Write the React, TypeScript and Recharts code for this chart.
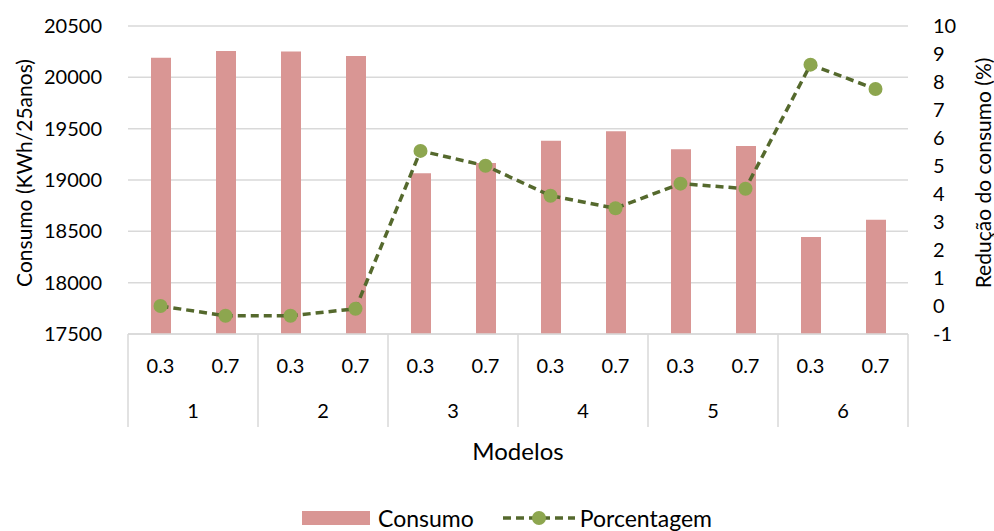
import React from 'react';
import {
    ComposedChart,
    Bar,
    Line,
    XAxis,
    YAxis,
    CartesianGrid,
} from 'recharts';

// two-level category axis: ratio inside each model
const models = ['1', '1', '2', '2', '3', '3', '4', '4', '5', '5', '6', '6'];
const ratios = ['0.3', '0.7', '0.3', '0.7', '0.3', '0.7', '0.3', '0.7', '0.3', '0.7', '0.3', '0.7'];
const consumo = [20190, 20257, 20252, 20208, 19065, 19166, 19383, 19474, 19299, 19331, 18445, 18614];
const porcentagem = [0, -0.35, -0.35, -0.1, 5.54, 5.01, 3.94, 3.49, 4.37, 4.19, 8.62, 7.75];

const leftTicks = [17500, 18000, 18500, 19000, 19500, 20000, 20500];
const rightTicks = [-1, 0, 1, 2, 3, 4, 5, 6, 7, 8, 9, 10];

const data = ratios.map((r, i) => ({
    key: `${models[i]}-${r}`,
    ratio: r,
    model: models[i],
    consumo: consumo[i],
    porcentagem: porcentagem[i],
}));

const FONT = 'Lato, "Open Sans", sans-serif';
const FS = 20;
const GRID = '#D9D9D9';
const BAR = '#D99694';
const LINE = '#55692D';
const DOT = '#8DA64F';

const TwoLevelTick = (props: any) => {
    const { x, y, payload, index } = props;
    const half = payload?.offset ?? 32.5;
    const row = data[index];
    const isFirst = index % 2 === 0;
    const isLast = index === data.length - 1;
    return (
        <g>
            <text x={x} y={y + 34} textAnchor="middle" dominantBaseline="middle" fontSize={FS} fill="#000" fontFamily={FONT}>
                {row.ratio}
            </text>
            {isFirst && (
                <>
                    <line x1={x - half} x2={x - half} y1={y} y2={y + 93} stroke={GRID} strokeWidth={1.5} />
                    <text x={x + half} y={y + 79} textAnchor="middle" dominantBaseline="middle" fontSize={FS} fill="#000" fontFamily={FONT}>
                        {row.model}
                    </text>
                </>
            )}
            {isLast && <line x1={x + half} x2={x + half} y1={y} y2={y + 93} stroke={GRID} strokeWidth={1.5} />}
        </g>
    );
};

// rotated axis title, reading bottom to top
const sideTitle = (text: string, side: 'left' | 'right') => (props: any) => {
    const vb = props.viewBox || {};
    const cx = side === 'left' ? vb.x + 23 : vb.x + vb.width - 4;
    const cy = vb.y + vb.height / 2 - 7;
    return (
        <text
            x={cx}
            y={cy}
            transform={`rotate(-90, ${cx}, ${cy})`}
            textAnchor="middle"
            dominantBaseline="central"
            fontSize={21}
            fontFamily={FONT}
            fill="#000"
        >
            {text}
        </text>
    );
};

const Legend = () => (
    <div
        style={{
            position: 'absolute',
            top: 505,
            left: 302,
            height: 26,
            display: 'flex',
            alignItems: 'center',
            fontFamily: FONT,
            fontSize: 23,
            lineHeight: '26px',
            color: '#000',
            whiteSpace: 'nowrap',
        }}
    >
        <span style={{ display: 'inline-block', width: 68, height: 14, background: BAR, marginRight: 8 }} />
        <span style={{ marginRight: 28 }}>Consumo</span>
        <svg width={74} height={20} style={{ marginRight: 4 }}>
            <line x1={1} x2={73} y1={10} y2={10} stroke={LINE} strokeWidth={3.5} strokeDasharray="8 5" />
            <circle cx={37} cy={10} r={7} fill={DOT} />
        </svg>
        <span>Porcentagem</span>
    </div>
);

export default function App() {
    return (
        <div style={{ position: 'fixed', top: 0, left: 0, width: 994, height: 531, background: '#fff', overflow: 'hidden' }}>
            <ComposedChart
                width={994}
                height={531}
                data={data}
                margin={{ top: 26, right: 8, left: 0, bottom: 67 }}
                style={{ fontFamily: FONT }}
            >
                <CartesianGrid vertical={false} stroke={GRID} strokeWidth={1.5} yAxisId="left" />
                <XAxis
                    dataKey="key"
                    height={130}
                    tick={<TwoLevelTick />}
                    tickLine={false}
                    tickSize={0}
                    tickMargin={0}
                    interval={0}
                    axisLine={{ stroke: GRID, strokeWidth: 1.5 }}
                    label={{
                        value: 'Modelos',
                        position: 'insideBottom',
                        offset: 4,
                        fill: '#000',
                        style: { fontSize: 24, fontFamily: FONT },
                    }}
                />
                <YAxis
                    yAxisId="left"
                    domain={[17500, 20500]}
                    ticks={leftTicks}
                    interval={0}
                    width={128}
                    axisLine={false}
                    tickLine={false}
                    tickSize={0}
                    tickMargin={26}
                    tick={{ fontSize: FS, fill: '#000' }}
                    label={{ content: sideTitle('Consumo (KWh/25anos)', 'left') }}
                />
                <YAxis
                    yAxisId="right"
                    orientation="right"
                    domain={[-1, 10]}
                    ticks={rightTicks}
                    interval={0}
                    width={78}
                    axisLine={false}
                    tickLine={false}
                    tickSize={0}
                    tickMargin={25}
                    tick={{ fontSize: FS, fill: '#000', textAnchor: 'start' }}
                    label={{ content: sideTitle('Redução do consumo (%)', 'right') }}
                />
                <Bar yAxisId="left" dataKey="consumo" name="Consumo" fill={BAR} barSize={20} isAnimationActive={false} />
                <Line
                    yAxisId="right"
                    dataKey="porcentagem"
                    name="Porcentagem"
                    type="linear"
                    stroke={LINE}
                    strokeWidth={3.5}
                    strokeDasharray="8 5"
                    dot={{ r: 7, fill: DOT, stroke: 'none' }}
                    activeDot={false}
                    isAnimationActive={false}
                />
            </ComposedChart>
            <Legend />
        </div>
    );
}
